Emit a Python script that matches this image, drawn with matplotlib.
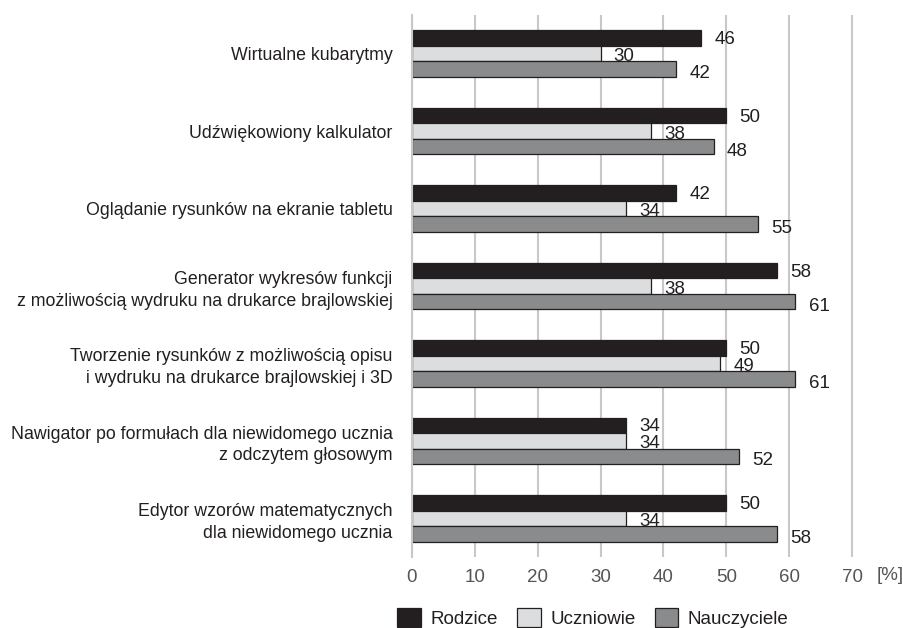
import matplotlib
matplotlib.use("Agg")
import matplotlib.pyplot as plt
import matplotlib.transforms as mtransforms
import numpy as np

plt.rcParams['font.family'] = ['Liberation Sans', 'DejaVu Sans']

categories = [
    "Wirtualne kubarytmy",
    "Udźwiękowiony kalkulator",
    "Oglądanie rysunków na ekranie tabletu",
    "Generator wykresów funkcji\nz możliwością wydruku na drukarce brajlowskiej",
    "Tworzenie rysunków z możliwością opisu\ni wydruku na drukarce brajlowskiej i 3D",
    "Nawigator po formułach dla niewidomego ucznia\nz odczytem głosowym",
    "Edytor wzorów matematycznych\ndla niewidomego ucznia",
]
rodzice = [46, 50, 42, 58, 50, 34, 50]
uczniowie = [30, 38, 34, 38, 49, 34, 34]
nauczyciele = [42, 48, 55, 61, 61, 52, 58]
series_names = ["Rodzice", "Uczniowie", "Nauczyciele"]
x_ticks = [0, 10, 20, 30, 40, 50, 60, 70]

colors = ["#231f20", "#dcdddf", "#8a8b8c"]
text_col = "#231f20"
fs = 13.5
fs_cat = 12.8

fig = plt.figure(figsize=(9.04, 6.28), dpi=100)
ax = fig.add_axes([412 / 904, 1 - 557 / 628, (72 * 6.286) / 904, (557 - 15) / 628])

y = np.arange(len(categories))
h = 0.2
for k, (vals, name) in enumerate(zip([rodzice, uczniowie, nauczyciele], series_names)):
    pos = y - h + k * h
    ax.barh(pos, vals, height=h, color=colors[k], edgecolor="#231f20",
            linewidth=0.9, label=name, zorder=3)
    for p, v in zip(pos, vals):
        ax.text(v + 2.1, p + 0.02 + k * 0.02, str(v), va="center", ha="left",
                fontsize=fs, color=text_col, zorder=4)

ax.set_xlim(0, 72)
ax.set_ylim(len(categories) - 0.5, -0.5)
ax.set_xticks(x_ticks)
ax.set_xticklabels([str(t) for t in x_ticks], fontsize=fs, color="#555555")
shift = mtransforms.ScaledTranslation(-5 / 100, 0, fig.dpi_scale_trans)
for lab in ax.get_xticklabels():
    lab.set_transform(lab.get_transform() + shift)
ax.set_yticks(y)
ax.set_yticklabels(categories, fontsize=fs_cat, color=text_col,
                   multialignment="right", linespacing=1.35)
ax.tick_params(axis="both", length=0)
ax.tick_params(axis="x", pad=9)
ax.tick_params(axis="y", pad=14)
ax.grid(axis="x", color="#c8c8c8", linewidth=1.5, zorder=0)
for s in ["top", "right", "bottom"]:
    ax.spines[s].set_visible(False)
ax.spines["left"].set_color("#c8c8c8")
ax.spines["left"].set_linewidth(1.5)
ax.spines["left"].set_zorder(5)

fig.text(877 / 904, 1 - 575 / 628, "[%]", ha="left", va="center",
         fontsize=fs, color="#555555")

fig.legend(loc="center", bbox_to_anchor=(593 / 904, 1 - 618 / 628), ncol=3,
           frameon=False, fontsize=fs, handlelength=1.25, handleheight=1.15,
           columnspacing=1.05, handletextpad=0.5, labelcolor=text_col)

fig.savefig("out.png", dpi=100)
